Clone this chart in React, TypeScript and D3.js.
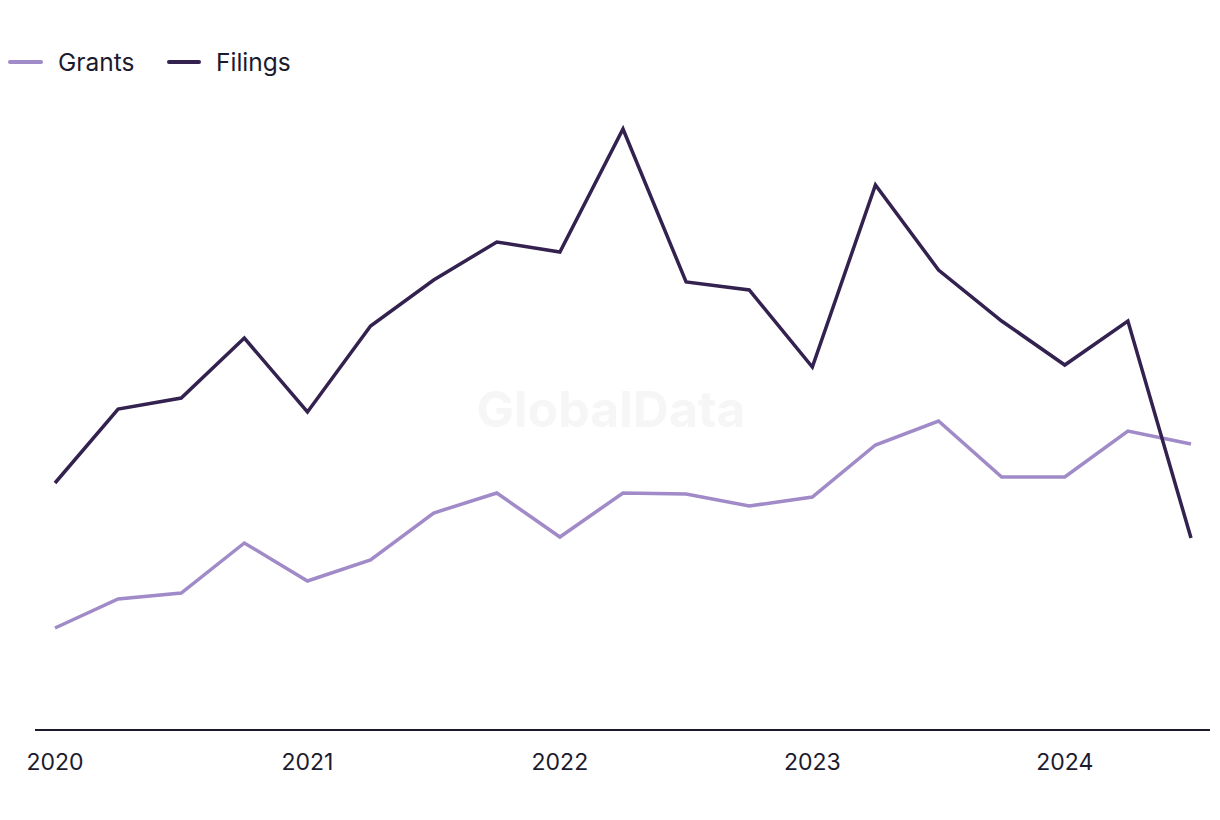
import React from "react";
import * as d3 from "d3";

const quarters = [
  "2020Q1","2020Q2","2020Q3","2020Q4",
  "2021Q1","2021Q2","2021Q3","2021Q4",
  "2022Q1","2022Q2","2022Q3","2022Q4",
  "2023Q1","2023Q2","2023Q3","2023Q4",
  "2024Q1","2024Q2","2024Q3",
];
const filings = [49.4, 64.2, 66.4, 78.4, 63.6, 80.8, 90, 97.6, 95.6, 120.2, 89.6, 88, 72.6, 109, 92, 81.8, 73, 81.8, 38.4];
const grants = [20.4, 26.2, 27.4, 37.4, 29.8, 34, 43.4, 47.4, 38.6, 47.4, 47.2, 44.8, 46.6, 57, 61.8, 50.6, 50.6, 59.8, 57.2];
const yearTicks = ["2020", "2021", "2022", "2023", "2024"];

const W = 1220, H = 820;
const FONT = "Inter, 'Noto Sans', sans-serif";

export default function App() {
  const x = d3.scaleLinear().domain([0, quarters.length - 1]).range([55, 1191]);
  const y = d3.scaleLinear().domain([0, 130]).range([730, 80]);
  const line = d3.line<number>().x((_, i) => x(i)).y((d) => y(d));
  const tickIdx = yearTicks.map((t) => quarters.indexOf(t + "Q1"));

  return (
    <svg width={W} height={H} style={{ position: "absolute", left: 0, top: 0, background: "#fff" }}>
      <text x={611} y={427} textAnchor="middle" fontFamily={FONT} fontWeight={700} fontSize={50} fill="#f6f6f6">GlobalData</text>
      {/* legend */}
      <line x1={10} x2={41} y1={62} y2={62} stroke="#a08ac8" strokeWidth={4} strokeLinecap="round" />
      <text x={58} y={71} fontFamily={FONT} fontSize={24.5} fill="#1c1b2e">Grants</text>
      <line x1={169} x2={199} y1={62} y2={62} stroke="#33214f" strokeWidth={4} strokeLinecap="round" />
      <text x={216} y={71} fontFamily={FONT} fontSize={24.5} fill="#1c1b2e">Filings</text>
      {/* axis */}
      <line x1={35} x2={1210} y1={730} y2={730} stroke="#1c1b2e" strokeWidth={2} />
      {yearTicks.map((t, k) => (
        <text key={t} x={x(tickIdx[k])} y={769.5} textAnchor="middle" fontFamily={FONT} fontSize={23} fill="#1c1b2e">{t}</text>
      ))}
      <path d={line(grants) || ""} fill="none" stroke="#a08ac8" strokeWidth={3.5} strokeLinejoin="miter" />
      <path d={line(filings) || ""} fill="none" stroke="#33214f" strokeWidth={3.5} strokeLinejoin="miter" />
    </svg>
  );
}
